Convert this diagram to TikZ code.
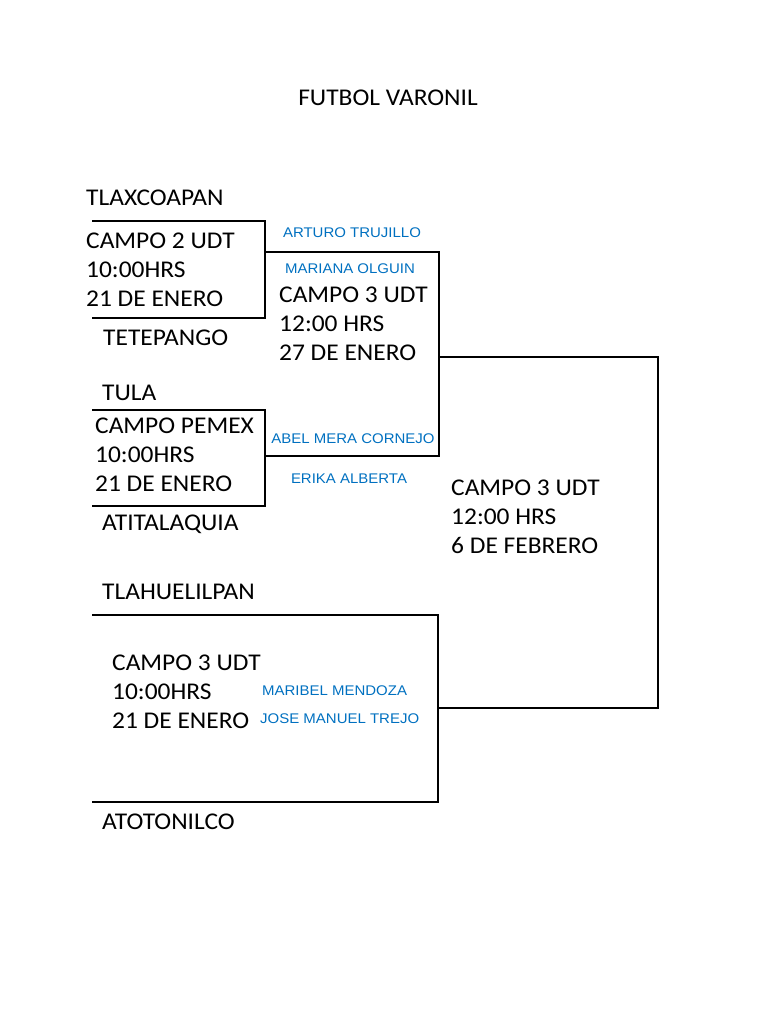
\documentclass[tikz,border=0pt]{standalone}
\usepackage{fontspec}
\setmainfont{Carlito}[FakeStretch=1.06]
\newfontfamily\refsans{Liberation Sans}[FakeStretch=1.07]
\definecolor{refblue}{RGB}{0,112,192}
\begin{document}
\begin{tikzpicture}[x=1pt,y=-1pt,
  lbl/.style={anchor=base west,inner sep=0pt,font=\fontsize{24}{28}\selectfont},
  ref/.style={anchor=base,inner sep=0pt,text=refblue,font=\refsans\fontsize{14}{16}\selectfont},
  refl/.style={ref,anchor=base west},
  brk/.style={draw=black,line width=1.8pt}]
\useasboundingbox (0,0) rectangle (768,1024);
\node[lbl,anchor=base] (title) at (388,106) {FUTBOL VARONIL};
% first bracket
\node[lbl] (t1) at (86,206) {TLAXCOAPAN};
\node[lbl] (m1a) at (86,248.5) {CAMPO 2 UDT};
\node[lbl] (m1b) at (86,277.5) {10:00HRS};
\node[lbl] (m1c) at (86,306.5) {21 DE ENERO};
\node[lbl] (t2) at (103,345.5) {TETEPANGO};
% second bracket
\node[lbl] (t3) at (102,400.5) {TULA};
\node[lbl] (m2a) at (95,433.5) {CAMPO PEMEX};
\node[lbl] (m2b) at (95,462.5) {10:00HRS};
\node[lbl] (m2c) at (95,491.5) {21 DE ENERO};
\node[lbl] (t4) at (102,530.5) {ATITALAQUIA};
% semifinal
\node[lbl] (s1a) at (279,302.5) {CAMPO 3 UDT};
\node[lbl] (s1b) at (279,331.5) {12:00 HRS};
\node[lbl] (s1c) at (279,360.5) {27 DE ENERO};
% final
\node[lbl] (fa) at (451,495.5) {CAMPO 3 UDT};
\node[lbl] (fb) at (451,524.5) {12:00 HRS};
\node[lbl] (fc) at (451,553.5) {6 DE FEBRERO};
% third bracket
\node[lbl] (t5) at (102,599.5) {TLAHUELILPAN};
\node[lbl] (m3a) at (112,670.5) {CAMPO 3 UDT};
\node[lbl] (m3b) at (112,699.5) {10:00HRS};
\node[lbl] (m3c) at (112,728.5) {21 DE ENERO};
\node[lbl] (t6) at (102,829.5) {ATOTONILCO};
% referees
\node[ref] (r1) at (352,237) {ARTURO TRUJILLO};
\node[ref] (r2) at (350,273) {MARIANA OLGUIN};
\node[ref] (r3) at (353,443) {ABEL MERA CORNEJO};
\node[ref] (r4) at (349,483) {ERIKA ALBERTA};
\node[refl] (r5) at (262,695) {MARIBEL MENDOZA};
\node[refl] (r6) at (260,723) {JOSE MANUEL TREJO};
% bracket coordinates
\coordinate (a1) at (92,221); \coordinate (a2) at (265,221);
\coordinate (a3) at (265,318); \coordinate (a4) at (92,318);
\coordinate (a5) at (265,252); \coordinate (s1) at (439,252);
\coordinate (b1) at (92,410); \coordinate (b2) at (265,410);
\coordinate (b3) at (265,506); \coordinate (b4) at (92,506);
\coordinate (b5) at (265,456); \coordinate (s2) at (439,456);
\coordinate (s3) at (439,357); \coordinate (f1) at (658,357);
\coordinate (f2) at (658,708); \coordinate (c5) at (438,708);
\coordinate (c1) at (92,615); \coordinate (c2) at (438,615);
\coordinate (c3) at (438,802); \coordinate (c4) at (92,802);
\draw[brk] (a1) -- (a2) -- (a3) -- (a4);
\draw[brk] (a5) -- (s1) -- (s2) -- (b5);
\draw[brk] (b1) -- (b2) -- (b3) -- (b4);
\draw[brk] (s3) -- (f1) -- (f2) -- (c5);
\draw[brk] (c1) -- (c2) -- (c3) -- (c4);
\end{tikzpicture}
\end{document}
